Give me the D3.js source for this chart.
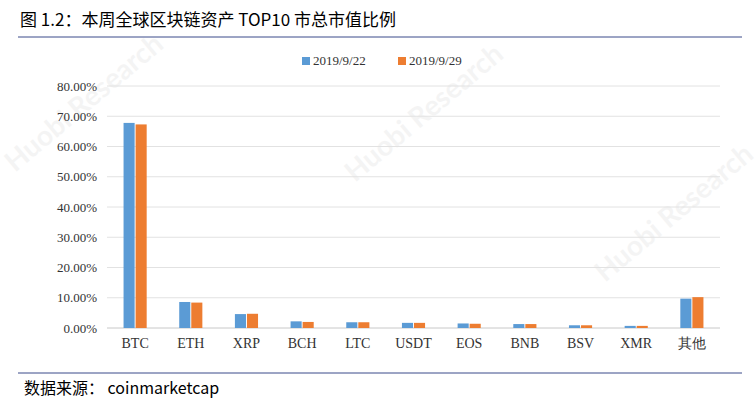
<!DOCTYPE html>
<html><head><meta charset="utf-8">
<script src="https://cdn.jsdelivr.net/npm/d3@7"></script>
<style>body{margin:0;background:#fff}</style>
</head><body>
<svg id="c" width="755" height="404"></svg>
<script>
const categories = ['BTC', 'ETH', 'XRP', 'BCH', 'LTC', 'USDT', 'EOS', 'BNB', 'BSV', 'XMR', '其他']
const seriesNames = ['2019/9/22', '2019/9/29']
const week1 = [67.8, 8.6, 4.6, 2.2, 1.9, 1.7, 1.5, 1.3, 0.9, 0.7, 9.7]
const week2 = [67.3, 8.4, 4.7, 2.0, 1.9, 1.7, 1.4, 1.3, 0.9, 0.7, 10.2]
const yTicks = [0, 10, 20, 30, 40, 50, 60, 70, 80]
const colors = ['#5b9bd5', '#ed7d31']

const svg = d3.select('#c')
const serif = '"Liberation Serif", "DejaVu Serif", serif'

// title + rules
svg.append('text').attr('x', 20).attr('y', 26).attr('font-size', 17)
  .attr('font-family', '"Noto Sans CJK SC", sans-serif').attr('fill', '#000')
  .text('图 1.2：本周全球区块链资产 TOP10 市总市值比例')
svg.append('line').attr('x1', 18).attr('x2', 742).attr('y1', 37).attr('y2', 37)
  .attr('stroke', '#3a4a8a').attr('stroke-width', 1)
svg.append('line').attr('x1', 18).attr('x2', 742).attr('y1', 373).attr('y2', 373)
  .attr('stroke', '#3a4a8a').attr('stroke-width', 1)
svg.append('text').attr('x', 24).attr('y', 394).attr('font-size', 16)
  .attr('font-family', '"Noto Sans CJK SC", sans-serif')
  .text('数据来源：  coinmarketcap')

// watermark
;[[90, 110], [430, 120], [680, 220]].forEach(([x, y]) => {
  svg.append('text').attr('x', x).attr('y', y).attr('font-size', 28)
    .attr('font-family', 'Lato, sans-serif').attr('font-weight', 'bold')
    .attr('fill', '#000').attr('opacity', 0.04)
    .attr('transform', `rotate(-40 ${x} ${y})`).attr('text-anchor', 'middle')
    .text('Huobi Research')
})

const x0 = d3.scaleBand().domain(categories).range([107, 720]).paddingInner(0.55).paddingOuter(0.28)
const x1 = d3.scaleBand().domain(seriesNames).range([0, x0.bandwidth()]).padding(0.08)
const y = d3.scaleLinear().domain([0, 80]).range([328, 86])

svg.append('g').selectAll('line').data(yTicks).join('line')
  .attr('x1', 107).attr('x2', 720).attr('y1', d => y(d)).attr('y2', d => y(d))
  .attr('stroke', d => d === 0 ? '#c8c8c8' : '#e2e2e2')

const yAxis = svg.append('g').attr('transform', 'translate(100,0)')
  .call(d3.axisLeft(y).tickValues(yTicks).tickSize(0).tickFormat(d => d3.format('.2f')(d) + '%'))
yAxis.select('.domain').remove()
yAxis.selectAll('text').attr('font-family', serif).attr('font-size', 13).attr('fill', '#333')

const xAxis = svg.append('g').attr('transform', 'translate(0,330)')
  .call(d3.axisBottom(x0).tickSize(0).tickPadding(8))
xAxis.select('.domain').remove()
xAxis.selectAll('text').attr('font-family', serif).attr('font-size', 14).attr('fill', '#333')

const rows = categories.map((c, i) => ({ c, vals: [week1[i], week2[i]] }))
svg.append('g').selectAll('g').data(rows).join('g')
  .attr('transform', d => `translate(${x0(d.c)},0)`)
  .selectAll('rect').data(d => d.vals.map((v, k) => ({ v, k })))
  .join('rect')
  .attr('x', d => x1(seriesNames[d.k])).attr('width', x1.bandwidth())
  .attr('y', d => y(d.v)).attr('height', d => y(0) - y(d.v))
  .attr('fill', d => colors[d.k])

const lg = svg.append('g').attr('transform', 'translate(302,62)')
seriesNames.forEach((s, i) => {
  const g = lg.append('g').attr('transform', `translate(${i * 96},0)`)
  g.append('rect').attr('x', 0).attr('y', -5).attr('width', 8).attr('height', 8).attr('fill', colors[i])
  g.append('text').attr('x', 11).attr('y', 3).attr('font-family', serif).attr('font-size', 13)
    .attr('fill', '#333').text(s)
})
</script>
</body></html>
